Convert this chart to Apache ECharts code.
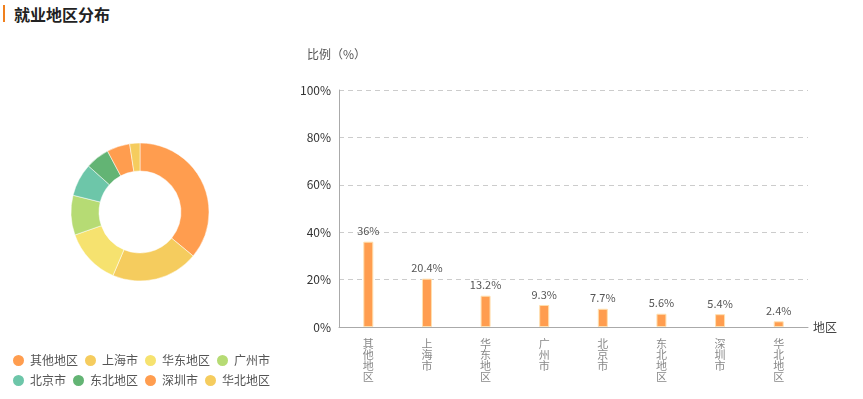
<!DOCTYPE html>
<html>
<head>
<meta charset="utf-8">
<script src="https://cdn.jsdelivr.net/npm/echarts@6/dist/echarts.min.js"></script>
<style>
    html, body { margin: 0; padding: 0; background: #fff; }
    .title_bar { position: absolute; left: 3px; top: 5px; width: 2px; height: 17px; background: #F0801E; }
    .title_text { position: absolute; left: 14px; top: 2px; font: bold 16px "Noto Sans CJK SC"; color: #222; }
    #chart_content { width: 863px; height: 399px; }
</style>
</head>
<body>
<div class="title_bar"></div>
<div class="title_text">就业地区分布</div>
<div id="chart_content"></div>
<script>
// 地区占比
var regions = ["其他地区", "上海市", "华东地区", "广州市", "北京市", "东北地区", "深圳市", "华北地区"];
var ratios = [36, 20.4, 13.2, 9.3, 7.7, 5.6, 5.4, 2.4];
var yTicks = [0, 20, 40, 60, 80, 100];
var pieColors = ["#FF9D4F", "#F5CC5E", "#F6E26F", "#B6DB74", "#6DC6A9", "#63B474", "#FF9D4F", "#F5CC5E"];

var chart = echarts.init(document.getElementById("chart_content"));
var pieData = [];
for (var i = 0; i < regions.length; i++) {
    pieData.push({ name: regions[i], value: ratios[i], itemStyle: { color: pieColors[i] } });
}
var option = {
    textStyle: { fontFamily: "Noto Sans CJK SC" },
    legend: {
        left: 6,
        top: 348,
        width: 280,
        icon: "circle",
        itemWidth: 13,
        itemHeight: 13,
        itemGap: 5,
        textStyle: { color: "#555", fontSize: 12 },
        data: regions
    },
    grid: { left: 339, right: 55, top: 90, bottom: 72, containLabel: false },
    xAxis: {
        type: "category",
        data: regions,
        name: "地区",
        nameGap: 5,
        nameTextStyle: { color: "#444", fontSize: 12, verticalAlign: "middle" },
        axisLine: { lineStyle: { color: "#aaa" } },
        axisTick: { show: false },
        axisLabel: {
            color: "#888",
            fontSize: 11,
            lineHeight: 11,
            margin: 11,
            formatter: function (v) { return v.split("").join("\n"); }
        }
    },
    yAxis: {
        type: "value",
        min: 0,
        max: 100,
        interval: 20,
        name: "比例（%）",
        nameGap: 30,
        nameTextStyle: { color: "#555", fontSize: 12, align: "right", padding: [0, -27, 0, 0] },
        axisLine: { show: true, lineStyle: { color: "#aaa" } },
        axisTick: { show: false },
        axisLabel: { color: "#333", fontSize: 12, margin: 8, formatter: function (v) { return yTicks.indexOf(v) >= 0 ? v + "%" : ""; } },
        splitLine: { lineStyle: { color: "#ccc", type: [5, 4] } }
    },
    series: [
        {
            type: "pie",
            center: [140, 212],
            radius: [41, 69],
            startAngle: 90,
            label: { show: false },
            labelLine: { show: false },
            itemStyle: { borderColor: "#fff", borderWidth: 0.5 },
            data: pieData
        },
        {
            type: "bar",
            barWidth: 10,
            itemStyle: { color: "#FF9D4F", borderColor: "#FFE0B0", borderWidth: 1 },
            label: { show: true, position: "top", color: "#555", fontSize: 11, formatter: "{c}%" },
            data: ratios
        }
    ]
};
chart.setOption(option, true);
</script>
</body>
</html>
